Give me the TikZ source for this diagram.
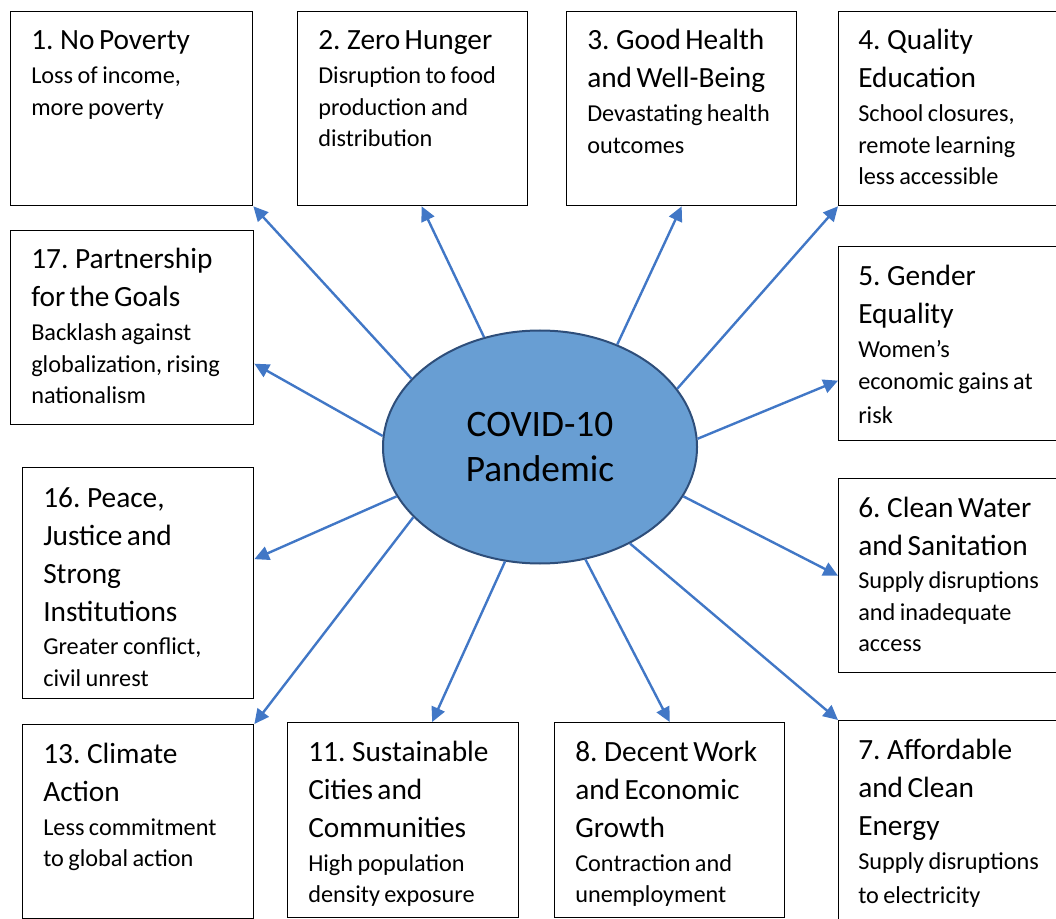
\documentclass[tikz,border=0pt]{standalone}
\usepackage{fontspec}
\setmainfont{Carlito}
\usetikzlibrary{arrows.meta,shapes.geometric}
\definecolor{arrowblue}{RGB}{65,119,198}
\definecolor{covidfill}{RGB}{104,158,211}
\definecolor{covidline}{RGB}{46,78,122}
\newcommand{\goalhead}{\fontsize{22}{28.5}\selectfont}
\newcommand{\goalbody}{\fontsize{18.2}{23.5}\selectfont}
\begin{document}
\begin{tikzpicture}[x=0.75pt,y=-0.75pt,
    goal/.style={draw, line width=1pt, anchor=north west, minimum width=173pt, minimum height=145.5pt, inner sep=0pt},
    goaltext/.style={anchor=base west, align=left, text width=178pt, inner sep=0pt},
    link/.style={draw=arrowblue, line width=1.8pt, -{Triangle[length=11pt,width=10.5pt]}}]
    \useasboundingbox (0,0) rectangle (1056,919);
    \clip (0,0) rectangle (1056,919);
    % goal boxes
    \node[goal, minimum width=181.5pt] (b1) at (10,11) {};
    \node[goal, minimum width=172.5pt] (b2) at (297,11) {};
    \node[goal, minimum width=172.5pt] (b3) at (566,11) {};
    \node[goal, minimum width=174pt] (b4) at (838,11) {};
    \node[goal, minimum width=182.25pt] (b17) at (10,230) {};
    \node[goal, minimum width=174pt] (b5) at (838,246) {};
    \node[goal, minimum width=173.25pt, minimum height=173.25pt] (b16) at (22,467) {};
    \node[goal, minimum width=174pt] (b6) at (838,478) {};
    \node[goal, minimum width=173.25pt] (b13) at (22,724) {};
    \node[goal, minimum width=173.25pt, minimum height=146.25pt] (b11) at (287,722) {};
    \node[goal, minimum width=172.5pt, minimum height=146.25pt] (b8) at (554,722) {};
    \node[goal, minimum width=174pt, minimum height=160pt] (b7) at (838,720) {};
    % texts
    \node[goaltext] (t1) at ([shift={(21,39)}]b1.north west) {{\goalhead 1. No Poverty\par}\vspace{2pt}{\goalbody Loss of income,\\more poverty\par}};
    \node[goaltext] (t2) at ([shift={(21,39)}]b2.north west) {{\goalhead 2. Zero Hunger\par}\vspace{2pt}{\goalbody Disruption to food\\production and\\distribution\par}};
    \node[goaltext] (t3) at ([shift={(21,39)}]b3.north west) {{\goalhead 3. Good Health\\and Well-Being\par}\vspace{2pt}{\goalbody Devastating health\\outcomes\par}};
    \node[goaltext] (t4) at ([shift={(20,39)}]b4.north west) {{\goalhead 4. Quality\\Education\par}\vspace{2pt}{\goalbody School closures,\\remote learning\\less accessible\par}};
    \node[goaltext] (t17) at ([shift={(21,39)}]b17.north west) {{\goalhead 17. Partnership\\for the Goals\par}\vspace{2pt}{\goalbody Backlash against\\globalization, rising\\nationalism\par}};
    \node[goaltext] (t5) at ([shift={(20,40)}]b5.north west) {{\goalhead 5. Gender\\Equality\par}\vspace{2pt}{\goalbody Women’s\\economic gains at\\[2pt]risk\par}};
    \node[goaltext] (t16) at ([shift={(21,40)}]b16.north west) {{\goalhead 16. Peace,\\Justice and\\Strong\\Institutions\par}\vspace{2pt}{\goalbody Greater conflict,\\civil unrest\par}};
    \node[goaltext] (t6) at ([shift={(20,39)}]b6.north west) {{\goalhead 6. Clean Water\\and Sanitation\par}\vspace{2pt}{\goalbody Supply disruptions\\and inadequate\\access\par}};
    \node[goaltext] (t13) at ([shift={(21,39)}]b13.north west) {{\goalhead 13. Climate\\Action\par}\vspace{2pt}{\goalbody Less commitment\\to global action\par}};
    \node[goaltext] (t11) at ([shift={(21,39)}]b11.north west) {{\goalhead 11. Sustainable\\Cities and\\Communities\par}\vspace{2pt}{\goalbody High population\\density exposure\par}};
    \node[goaltext] (t8) at ([shift={(21,39)}]b8.north west) {{\goalhead 8. Decent Work\\and Economic\\Growth\par}\vspace{2pt}{\goalbody Contraction and\\unemployment\par}};
    \node[goaltext] (t7) at ([shift={(20,39)}]b7.north west) {{\goalhead 7. Affordable\\and Clean\\Energy\par}\vspace{2pt}{\goalbody Supply disruptions\\[2pt]to electricity\par}};
    % centre
    \node[ellipse, draw=covidline, line width=1.5pt, fill=covidfill, minimum width=235.5pt, minimum height=174.75pt, align=center, font=\fontsize{28}{33.75}\selectfont] (covid) at (540,447) {COVID-10\\Pandemic};
    % arrows
    \draw[link] (covid.152) -- (b1.south east);
    \draw[link] (covid.117) -- ([shift={(9,0)}]b2.south);
    \draw[link] (covid.53) -- (b3.south);
    \draw[link] (covid.23) -- (b4.south west);
    \draw[link] (covid.3) -- ([shift={(0,37)}]b5.west);
    \draw[link] (covid.-19) -- (b6.west);
    \draw[link] (covid.-47) -- (b7.north west);
    \draw[link] (covid.-68) -- (b8.north);
    \draw[link] (covid.253) -- ([shift={(29,0)}]b11.north);
    \draw[link] (covid.209) -- (b13.north east);
    \draw[link] (covid.199) -- ([shift={(0,-24)}]b16.east);
    \draw[link] (covid.176) -- ([shift={(0,36)}]b17.east);
\end{tikzpicture}
\end{document}
